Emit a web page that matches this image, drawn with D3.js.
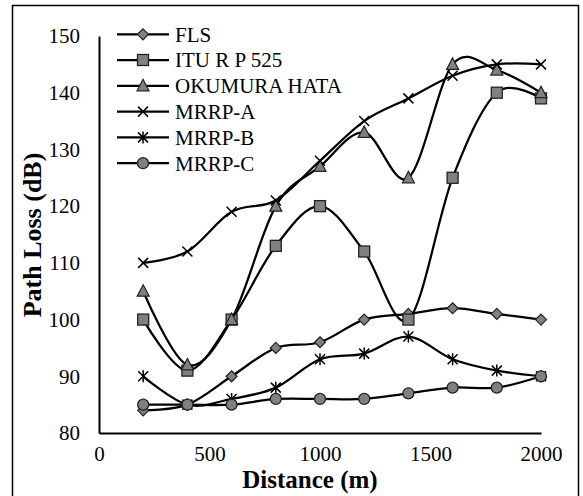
<!DOCTYPE html>
<html><head><meta charset="utf-8">
<script src="https://cdn.jsdelivr.net/npm/d3@7"></script>
<style>body{margin:0;background:#fff}svg{display:block}</style>
</head><body>
<script>
const distances = [200,400,600,800,1000,1200,1400,1600,1800,2000];
const fls      = [84,85,90,95,96,100,101,102,101,100];
const itu      = [100,91,100,113,120,112,100,125,140,139];
const okumura  = [105,92,100,120,127,133,125,145,144,140];
const mrrpA    = [110,112,119,121,128,135,139,143,145,145];
const mrrpB    = [90,85,86,88,93,94,97,93,91,90];
const mrrpC    = [85,85,85,86,86,86,87,88,88,90];
const seriesNames = ["FLS","ITU R P 525","OKUMURA HATA","MRRP-A","MRRP-B","MRRP-C"];
const seriesVals = [fls,itu,okumura,mrrpA,mrrpB,mrrpC];
const markerTypes = ["diamond","square","triangle","x","star","circle"];
const xTicks = [0,500,1000,1500,2000];
const yTicks = [80,90,100,110,120,130,140,150];

const W=583,H=496;
const svg=d3.select("body").append("svg").attr("width",W).attr("height",H);
svg.append("rect").attr("x",12.5).attr("y",5.5).attr("width",566).attr("height",500)
  .attr("fill","none").attr("stroke","#000").attr("stroke-width",1.5);

const x=d3.scaleLinear().domain([0,2000]).range([99,541]);
const y=d3.scaleLinear().domain([80,150]).range([433,36]);
const font="'Liberation Serif','Times New Roman',serif";

// axes
const gx=svg.append("g").attr("transform","translate(0,433)")
  .call(d3.axisBottom(x).tickValues(xTicks).tickSize(0).tickPadding(13).tickFormat(d3.format("d")));
const gy=svg.append("g").attr("transform","translate(99,0)")
  .call(d3.axisLeft(y).tickValues(yTicks).tickSize(0).tickPadding(19).tickFormat(d3.format("d")));
[gx,gy].forEach(g=>{
  g.select(".domain").attr("stroke","#000").attr("stroke-width",2);
  g.selectAll("text").attr("font-family",font).attr("font-size",21).attr("fill","#000");
});

svg.append("text").attr("x",310).attr("y",488).attr("text-anchor","middle")
  .attr("font-family",font).attr("font-weight","bold").attr("font-size",25).text("Distance (m)");
svg.append("text").attr("transform","translate(41,235) rotate(-90)").attr("text-anchor","middle")
  .attr("font-family",font).attr("font-weight","bold").attr("font-size",26).text("Path Loss (dB)");

const line=d3.line().x((d,i)=>x(distances[i])).y(d=>y(d)).curve(d3.curveCatmullRom.alpha(0));

function drawMarker(g,type,cx,cy){
  const fill="#808080",st="#222";
  if(type==="diamond"){
    g.append("path").attr("d",`M${cx},${cy-5.5}L${cx+5.5},${cy}L${cx},${cy+5.5}L${cx-5.5},${cy}Z`)
      .attr("fill",fill).attr("stroke",st).attr("stroke-width",1.2);
  }else if(type==="square"){
    g.append("rect").attr("x",cx-5.5).attr("y",cy-5.5).attr("width",11).attr("height",11)
      .attr("fill",fill).attr("stroke",st).attr("stroke-width",1.3);
  }else if(type==="triangle"){
    g.append("path").attr("d",`M${cx},${cy-6.5}L${cx+6},${cy+5}L${cx-6},${cy+5}Z`)
      .attr("fill",fill).attr("stroke",st).attr("stroke-width",1.2);
  }else if(type==="x"){
    g.append("path").attr("d",`M${cx-5},${cy-5}L${cx+5},${cy+5}M${cx-5},${cy+5}L${cx+5},${cy-5}`)
      .attr("stroke","#000").attr("stroke-width",1.5);
  }else if(type==="star"){
    g.append("path").attr("d",`M${cx-5},${cy-5}L${cx+5},${cy+5}M${cx-5},${cy+5}L${cx+5},${cy-5}M${cx},${cy-6}L${cx},${cy+6}`)
      .attr("stroke","#000").attr("stroke-width",1.5);
  }else if(type==="circle"){
    g.append("circle").attr("cx",cx).attr("cy",cy).attr("r",5.5)
      .attr("fill",fill).attr("stroke",st).attr("stroke-width",1.3);
  }
}

seriesVals.forEach((vals,si)=>{
  const g=svg.append("g");
  g.append("path").attr("d",line(vals)).attr("fill","none").attr("stroke","#000").attr("stroke-width",2.25);
  vals.forEach((v,i)=>drawMarker(g,markerTypes[si],x(distances[i]),y(v)));
});

// legend
const legY=[34.3,60,85.8,111.6,137.4,163.2];
seriesNames.forEach((n,i)=>{
  const g=svg.append("g");
  g.append("line").attr("x1",117).attr("x2",169).attr("y1",legY[i]).attr("y2",legY[i])
    .attr("stroke","#000").attr("stroke-width",2.25);
  drawMarker(g,markerTypes[i],143,legY[i]);
  g.append("text").attr("x",175).attr("y",legY[i]).attr("dy","0.35em")
    .attr("font-family",font).attr("font-size",21).text(n);
});
</script>
</body></html>
